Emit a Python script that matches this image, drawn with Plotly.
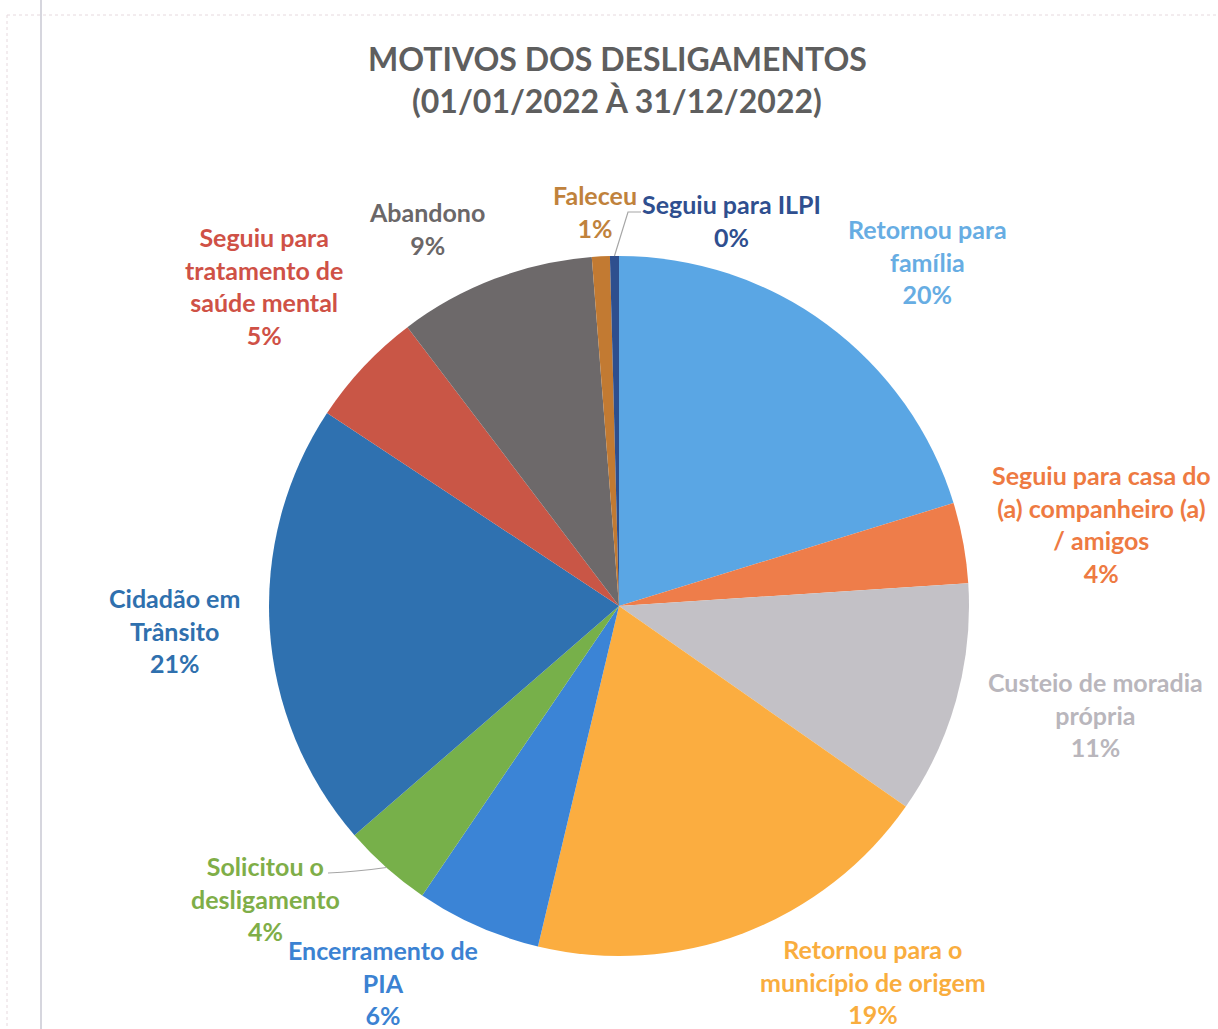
import math
import plotly.graph_objects as go

# ---------------- data ----------------
categories = [
    "Retornou para família",
    "Seguiu para casa do (a) companheiro (a) / amigos",
    "Custeio de moradia própria",
    "Retornou para o município de origem",
    "Encerramento de PIA",
    "Solicitou o desligamento",
    "Cidadão em Trânsito",
    "Seguiu para tratamento de saúde mental",
    "Abandono",
    "Faleceu",
    "Seguiu para ILPI",
]
counts = [49, 9, 26, 46, 14, 10, 50, 13, 22, 2, 1]

# label text as shown (line breaks)
label_lines = [
    "Retornou para<br>família",
    "Seguiu para casa do<br>(a) companheiro (a)<br>/ amigos",
    "Custeio de moradia<br>própria",
    "Retornou para o<br>município de origem",
    "Encerramento de<br>PIA",
    "Solicitou o<br>desligamento",
    "Cidadão em<br>Trânsito",
    "Seguiu para<br>tratamento de<br>saúde mental",
    "Abandono",
    "Faleceu",
    "Seguiu para ILPI",
]

title_lines = ["MOTIVOS DOS DESLIGAMENTOS", "(01/01/2022 À 31/12/2022)"]

# ---------------- styles ----------------
slice_colors = ["#5AA6E4", "#EE7D4A", "#C3C1C6", "#FBAD40", "#3B84D6",
                "#77B04A", "#2F71B0", "#C95646", "#6D696A", "#C27A32", "#2E4F8E"]
text_colors = ["#67ADE3", "#EE7A42", "#B9B6BC", "#F9AD3E", "#3B82D2",
               "#7FAE48", "#2F70AE", "#CF5146", "#6B6768", "#C0823C", "#2F4F8F"]

W, H = 1218, 1029
CX, CY, R = 619, 606, 350          # pie centre / radius in pixels
# label block centres (pixels) - layout only
label_pos = [(927, 262), (1101, 524), (1095, 714), (873, 981), (383, 982),
             (265, 898), (174, 630), (264, 286), (427, 229), (595, 211), (731, 220)]
title_pos = [(617, 58), (617, 101)]
FONT = "Lato, 'Open Sans', sans-serif"

def px(x):
    return x / W

def py(y):
    return 1 - y / H

total = sum(counts)

fig = go.Figure(go.Pie(
    labels=categories,
    values=counts,
    sort=False,
    direction="clockwise",
    rotation=0,
    marker=dict(colors=slice_colors, line=dict(width=0)),
    textinfo="none",
    hoverinfo="label+value+percent",
    showlegend=False,
    domain=dict(x=[px(CX - R), px(CX + R)], y=[py(CY + R), py(CY - R)]),
))

annotations = []
for i, (txt, col, pos) in enumerate(zip(label_lines, text_colors, label_pos)):
    pct = int(math.floor(100 * counts[i] / total + 0.5))
    annotations.append(dict(
        x=px(pos[0]), y=py(pos[1]), xref="paper", yref="paper",
        text=f"<b>{txt}<br>{pct}%</b>", showarrow=False,
        font=dict(family=FONT, size=25, color=col),
        align="center", xanchor="center", yanchor="middle",
    ))

for t, pos in zip(title_lines, title_pos):
    annotations.append(dict(
        x=px(pos[0]), y=py(pos[1]), xref="paper", yref="paper",
        text=f"<b>{t}</b>", showarrow=False, xanchor="center", yanchor="middle",
        font=dict(family=FONT, size=32, color="#5E5E5E"),
    ))

# leader lines computed from slice mid-angles
cum = 0
mids = []
for v in counts:
    mids.append((cum + v / 2) / total * 2 * math.pi)
    cum += v

def edge(i, rr=R):
    a = mids[i]
    return CX + rr * math.sin(a), CY - rr * math.cos(a)

shapes = []
ex, ey = edge(10)
shapes.append(dict(type="path", xref="paper", yref="paper",
                   path=f"M {px(ex)},{py(ey)} L {px(628)},{py(212)} L {px(641)},{py(212)}",
                   line=dict(color="#A6A6A6", width=1.2)))
ex, ey = edge(5)
shapes.append(dict(type="path", xref="paper", yref="paper",
                   path=f"M {px(328)},{py(873)} Q {px(355)},{py(872)} {px(ex)},{py(ey)}",
                   line=dict(color="#A6A6A6", width=1.2)))

# scanned page frame lines
shapes.append(dict(type="line", xref="paper", yref="paper",
                   x0=px(7), x1=1, y0=py(15), y1=py(15),
                   line=dict(color="#E6D9DE", width=1, dash="dot")))
shapes.append(dict(type="line", xref="paper", yref="paper",
                   x0=px(7), x1=px(7), y0=py(15), y1=0,
                   line=dict(color="#E6D9DE", width=1, dash="dot")))
shapes.append(dict(type="line", xref="paper", yref="paper",
                   x0=px(41), x1=px(41), y0=1, y1=0,
                   line=dict(color="#C9C9D3", width=1.5)))

fig.update_layout(
    width=W, height=H,
    margin=dict(l=0, r=0, t=0, b=0),
    paper_bgcolor="white",
    plot_bgcolor="white",
    annotations=annotations,
    shapes=shapes,
)

fig.write_html("out.html",
               config={"displayModeBar": False},
               post_script="document.body.style.margin='0';document.body.style.overflow='hidden';")
